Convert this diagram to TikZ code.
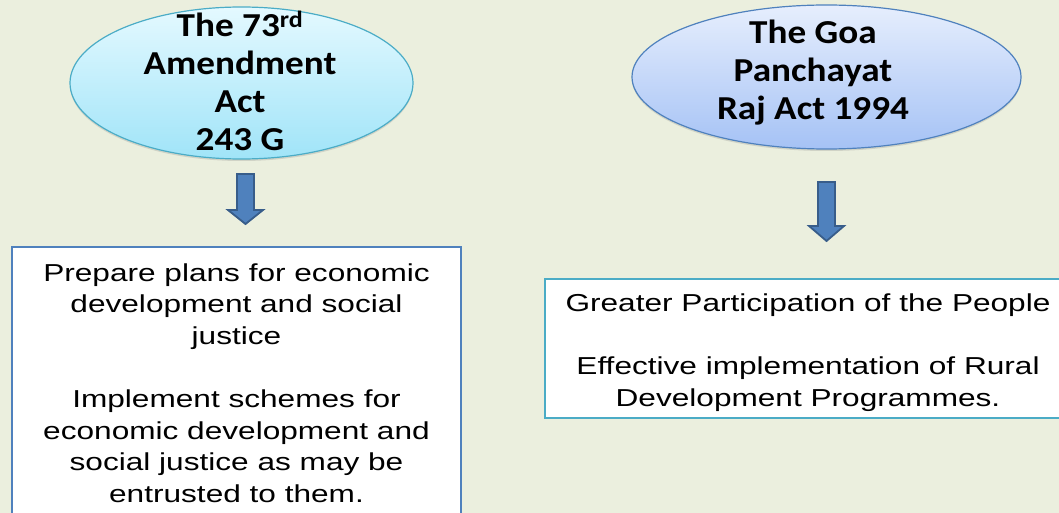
\documentclass[tikz,border=0pt]{standalone}
\usepackage{fontspec}
\usepackage{graphicx}
\setmainfont{Liberation Sans}
\newfontfamily\calib{Carlito}
\usetikzlibrary{shapes.geometric,shadows}
\definecolor{bgc}{RGB}{235,239,222}
\definecolor{cyanTop}{RGB}{228,249,255}
\definecolor{cyanBot}{RGB}{160,228,248}
\definecolor{cyanLine}{RGB}{75,172,198}
\definecolor{blueTop}{RGB}{230,238,253}
\definecolor{blueBot}{RGB}{165,194,245}
\definecolor{blueLine}{RGB}{79,129,189}
\definecolor{arrFill}{RGB}{79,129,189}
\definecolor{arrLine}{RGB}{56,93,138}
\tikzset{
  ovalbox/.style={ellipse, inner sep=0pt, line width=1.2pt,
    drop shadow={opacity=0.25, shadow xshift=0pt, shadow yshift=-2pt}},
  titletext/.style={inner sep=0pt, font=\calib\bfseries\fontsize{33.5}{38}\selectfont},
  bodybox/.style={draw, fill=white, line width=2.5pt, rectangle, inner sep=0pt},
  bodytext/.style={inner sep=0pt, font=\fontsize{24.5}{31.6}\selectfont},
  blockarrow/.style={fill=arrFill, draw=arrLine, line width=1.8pt, line join=miter}
}
\begin{document}
\begin{tikzpicture}[x=1pt,y=-1pt]
\useasboundingbox (0,0) rectangle (1059,513);
\fill[bgc] (0,0) rectangle (1059,513);
\clip (0,0) rectangle (1059,513);
% ellipses
\node[ovalbox, draw=cyanLine, top color=cyanTop, bottom color=cyanBot,
      minimum width=343pt, minimum height=152pt] (e1) at (241.5,83) {};
\node[ovalbox, draw=blueLine, top color=blueTop, bottom color=blueBot,
      minimum width=389pt, minimum height=144pt] (e2) at (826.5,77) {};
\node[titletext] (t1) at (240,86) {\scalebox{1.11}[1]{\begin{tabular}{@{}c@{}}The 73\textsuperscript{rd}\\Amendment\\Act\\243 G\end{tabular}}};
\node[titletext] (t2) at (813,73.5) {\scalebox{1.11}[1]{\begin{tabular}{@{}c@{}}The Goa\\Panchayat\\Raj Act 1994\end{tabular}}};
% boxes
\node[bodybox, draw=blueLine, minimum width=449pt, minimum height=274pt] (b1) at (236.5,384) {};
\node[bodytext] (b1t) at (236.5,385.5)
  {\scalebox{1.29}[1]{\begin{tabular}{@{}c@{}}Prepare plans for economic\\development and social\\justice\\ \\Implement schemes for\\economic development and\\social justice as may be\\entrusted to them.\end{tabular}}};
\node[bodybox, draw=cyanLine, minimum width=526pt, minimum height=139pt] (b2) at (808,348.5) {};
\node[bodytext] (b2t) at (808,352.5)
  {\scalebox{1.29}[1]{\begin{tabular}{@{}c@{}}Greater Participation of the People\\ \\Effective implementation of Rural\\Development Programmes.\end{tabular}}};
% block arrows
\coordinate (a1) at (245.5,174);
\coordinate (a2) at (826.5,182);
\draw[blockarrow] (a1) ++(-8.5,0) -- ++(0,36) -- ++(-9,0) -- ++(17.5,14) -- ++(17.5,-14) -- ++(-9,0) -- ++(0,-36) -- cycle;
\draw[blockarrow] (a2) ++(-8.5,0) -- ++(0,44) -- ++(-9,0) -- ++(17.5,15) -- ++(17.5,-15) -- ++(-9,0) -- ++(0,-44) -- cycle;
\end{tikzpicture}
\end{document}
